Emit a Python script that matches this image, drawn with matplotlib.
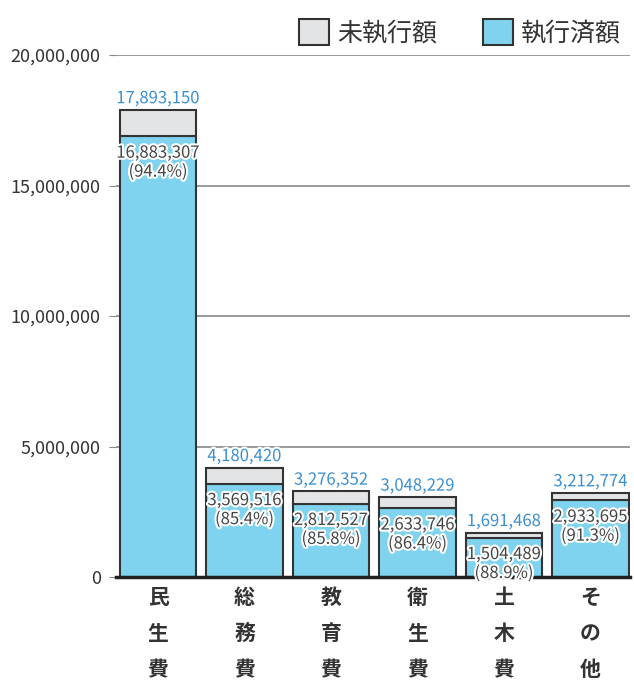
import matplotlib
matplotlib.use("Agg")
import matplotlib.pyplot as plt
import matplotlib.patheffects as pe
from matplotlib.ticker import FuncFormatter

plt.rcParams['font.family'] = ['Noto Sans CJK JP', 'DejaVu Sans']

# data (yen, thousand units as shown)
categories = ['民生費', '総務費', '教育費', '衛生費', '土木費', 'その他']
totals = [17893150, 4180420, 3276352, 3048229, 1691468, 3212774]
executed = [16883307, 3569516, 2812527, 2633746, 1504489, 2933695]
rates = [94.4, 85.4, 85.8, 86.4, 88.9, 91.3]

unexecuted = [t - e for t, e in zip(totals, executed)]

blue = '#7fd3ee'
grey = '#e3e4e6'
edge = '#333333'

fig = plt.figure(figsize=(6.34, 6.82), dpi=100)
ax = fig.add_axes([116 / 634, 1 - 577 / 682, (630 - 116) / 634, (577 - 55) / 682])

x = range(len(categories))
ax.bar(x, executed, width=0.88, color=blue, edgecolor=edge, linewidth=1.5,
       label='執行済額', zorder=3)
ax.bar(x, unexecuted, bottom=executed, width=0.88, color=grey, edgecolor=edge,
       linewidth=1.5, label='未執行額', zorder=3)

stroke = [pe.withStroke(linewidth=3, foreground='white')]
for i in x:
    ax.annotate(f"{totals[i]:,}", (i, totals[i]), xytext=(0, 2),
                textcoords='offset points', ha='center', va='bottom',
                fontsize=12, color='#3a8fd0', path_effects=stroke, zorder=5)
    ax.annotate(f"{executed[i]:,}\n({rates[i]}%)", (i, executed[i]),
                xytext=(0, -6), textcoords='offset points', ha='center',
                va='top', fontsize=12, color='#444444', linespacing=1.15,
                path_effects=stroke, zorder=5)

ax.set_xlim(-0.486, 5.457)
ax.set_ylim(0, 20000000)
ax.set_yticks([0, 5000000, 10000000, 15000000, 20000000])
ax.yaxis.set_major_formatter(FuncFormatter(lambda v, p: f"{int(v):,}"))
ax.set_xticks(list(x))
ax.set_xticklabels(['\n'.join(c) for c in categories], fontsize=15,
                   fontweight='bold', color='#333333', linespacing=1.9)
ax.tick_params(axis='x', length=0, pad=7)
ax.tick_params(axis='y', length=5, color='#888888', labelsize=13,
               labelcolor='#333333', pad=6)
ax.grid(axis='y', color='#888888', linewidth=1.2, zorder=0)

for s in ['top', 'right', 'left']:
    ax.spines[s].set_visible(False)
ax.spines['bottom'].set_linewidth(2.5)
ax.spines['bottom'].set_color('#222222')
ax.spines['bottom'].set_zorder(4)

handles, labels = ax.get_legend_handles_labels()
leg = ax.legend(handles[::-1], labels[::-1], ncol=2, loc='lower right',
                bbox_to_anchor=(1.0, 1.0), frameon=False, fontsize=18,
                handlelength=1.2, handleheight=1.2, handletextpad=0.35,
                columnspacing=1.8, borderaxespad=0.15, borderpad=0.2)
for t in leg.get_texts():
    t.set_color('#333333')

fig.savefig('out.png', dpi=100)
